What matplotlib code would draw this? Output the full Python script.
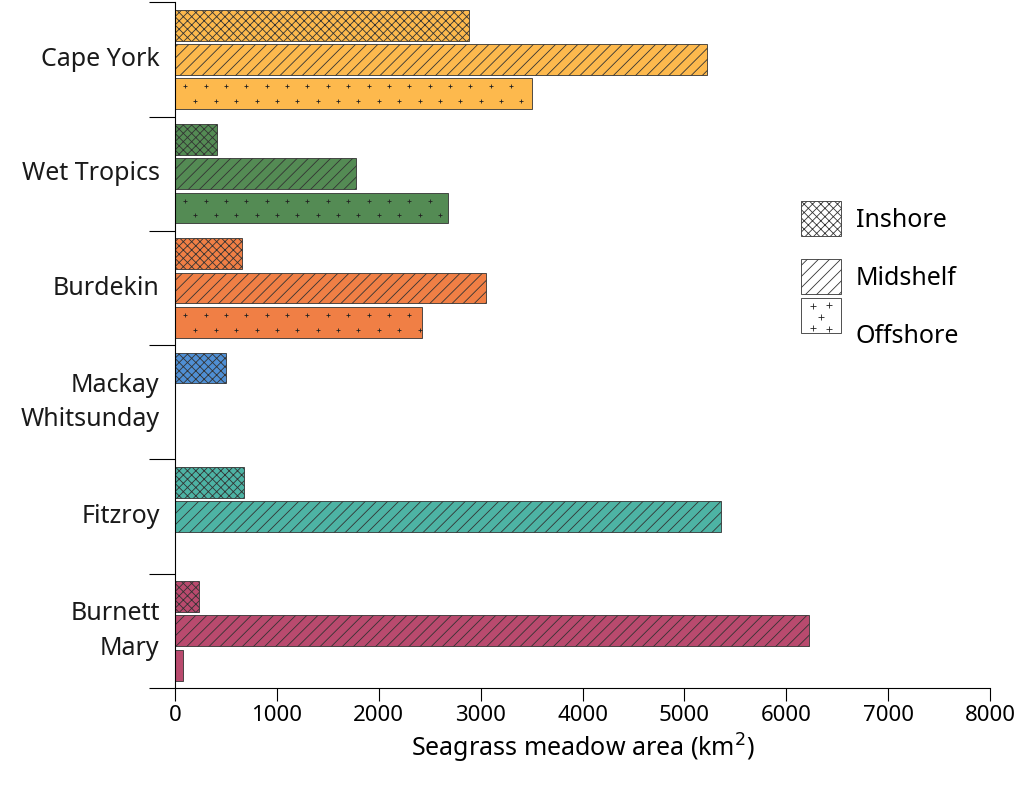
import matplotlib
matplotlib.use("Agg")
import matplotlib.pyplot as plt
from matplotlib.patches import Patch
from matplotlib.legend_handler import HandlerPatch
import numpy as np

plt.rcParams['font.family'] = ['Source Sans Pro', 'Noto Sans', 'DejaVu Sans']
plt.rcParams['hatch.linewidth'] = 0.6

regions = ["Cape York", "Wet Tropics", "Burdekin", "Mackay\nWhitsunday", "Fitzroy", "Burnett\nMary"]
colors = ["#FDB94D", "#548B54", "#F07F45", "#4F8FD4", "#4DB3A4", "#B94A6E"]
inshore = [2890, 410, 660, 500, 680, 240]
midshelf = [5220, 1780, 3050, 0, 5360, 6220]
offshore = [3500, 2680, 2420, 0, 0, 80]
zones = ["Inshore", "Midshelf", "Offshore"]
hatches = ["xxxx", "///", ""]

fig = plt.figure(figsize=(10.24, 7.9), dpi=100)
ax = fig.add_axes([175/1024, 1-688/790, 815/1024, 688/790 - 0.003])

for i, r in enumerate(regions):
    c = i + 0.5
    for j, vals in enumerate([inshore, midshelf, offshore]):
        v = vals[i]
        if v <= 0:
            continue
        y = c + (j - 1) * 0.3
        ax.barh(y, v, height=0.27, color=colors[i],
                edgecolor="#333333", linewidth=0.6, hatch=hatches[j])
        if j == 2:
            xs1 = np.arange(100, v, 200)
            xs2 = np.arange(200, v, 200)
            ax.scatter(xs1, np.full(len(xs1), y - 0.065), marker="+", s=10, c="#222222", linewidths=0.6, zorder=3)
            ax.scatter(xs2, np.full(len(xs2), y + 0.065), marker="+", s=10, c="#222222", linewidths=0.6, zorder=3)
    ax.text(-150, c, r, ha="right", va="center", fontsize=18, color="#1a1a1a",
            linespacing=1.5)

ax.set_ylim(6, 0)
ax.set_xlim(0, 8000)
ax.set_yticks(range(7))
ax.set_yticklabels([])
ax.set_xticks(range(0, 8001, 1000))
ax.tick_params(axis="y", length=19, width=0.8)
ax.tick_params(axis="x", length=9, width=0.8, labelsize=16)
for s in ["top", "right"]:
    ax.spines[s].set_visible(False)
ax.set_xlabel("Seagrass meadow area (km$^2$)", fontsize=18)


class PlusHandler(HandlerPatch):
    def create_artists(self, legend, orig, xd, yd, w, h, fs, trans):
        p = plt.Rectangle((xd, yd), w, h, facecolor="white", edgecolor="#333333", linewidth=0.6, transform=trans)
        pts = [(0.3, 0.75), (0.7, 0.8), (0.5, 0.45), (0.3, 0.15), (0.7, 0.1)]
        arts = [p]
        for px, py in pts:
            arts.append(plt.Line2D([xd + px * w], [yd + py * h], marker="+", markersize=4,
                                   color="#222222", mew=0.6, transform=trans))
        return arts


handles = [Patch(facecolor="white", edgecolor="#333333", hatch=h, linewidth=0.6) for h in hatches]
ax.legend(handles, zones, loc="center left", bbox_to_anchor=(0.74, 0.6), frameon=False,
          fontsize=18, handlelength=1.6, handleheight=1.8, labelspacing=0.9, handletextpad=0.6,
          handler_map={handles[2]: PlusHandler()})

fig.savefig("out.png", dpi=100)
